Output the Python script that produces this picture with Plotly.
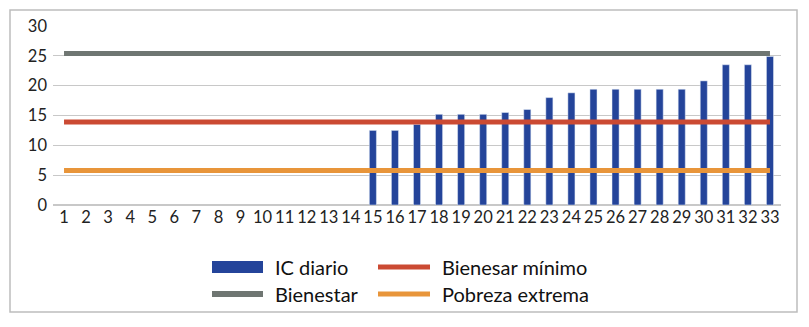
import plotly.graph_objects as go

days = [str(i) for i in range(1, 34)]
ic_diario = [None]*14 + [12.5, 12.5, 13.5, 15.2, 15.2, 15.2, 15.5, 16.0, 18.0, 18.8,
                          19.4, 19.4, 19.4, 19.4, 19.4, 20.8, 23.5, 23.5, 24.9]
bienestar = [25.4]*33
bienestar_minimo = [13.9]*33
pobreza_extrema = [5.8]*33
y_ticks = [0, 5, 10, 15, 20, 25, 30]
series_names = ["IC diario", "Bienesar mínimo", "Bienestar", "Pobreza extrema"]

W, H = 809, 327
L, R, T, B = 53, 28, 26, 122
pw, ph = W - L - R, H - T - B

BLUE, RED, GREY, ORANGE = "#24449A", "#CB4A33", "#6F7672", "#E8953A"

fig = go.Figure()
fig.add_trace(go.Bar(x=days, y=ic_diario, name=series_names[0], marker_color=BLUE))
fig.add_trace(go.Scatter(x=days, y=bienestar_minimo, name=series_names[1], mode="lines",
                         line=dict(color=RED, width=5)))
fig.add_trace(go.Scatter(x=days, y=bienestar, name=series_names[2], mode="lines",
                         line=dict(color=GREY, width=5)))
fig.add_trace(go.Scatter(x=days, y=pobreza_extrema, name=series_names[3], mode="lines",
                         line=dict(color=ORANGE, width=5)))


def px_x(x):
    return (x - L) / pw


def px_y(y):
    return (H - B - y) / ph


shapes = [dict(type="rect", xref="paper", yref="paper",
               x0=px_x(10), x1=px_x(797), y0=px_y(312), y1=px_y(10),
               line=dict(color="#BDBDBD", width=1.5), layer="below")]
annotations = []

# legend (2 x 2 grid, like the reference)
legend_items = [
    (series_names[0], BLUE, 212, 263, 267, 12),
    (series_names[1], RED, 378, 430, 267, 5),
    (series_names[2], GREY, 212, 263, 294, 6),
    (series_names[3], ORANGE, 378, 430, 294, 5),
]
for name, col, xa, xb, yc, th in legend_items:
    shapes.append(dict(type="rect", xref="paper", yref="paper",
                       x0=px_x(xa), x1=px_x(xb), y0=px_y(yc + th / 2), y1=px_y(yc - th / 2),
                       fillcolor=col, line=dict(width=0)))
    annotations.append(dict(text=name, xref="paper", yref="paper", x=px_x(xb + 10),
                            y=px_y(yc), xanchor="left", yanchor="middle", showarrow=False,
                            font=dict(size=20, family="Lato", color="#111")))

fig.update_layout(
    width=W, height=H,
    margin=dict(l=L, r=R, t=T, b=B, autoexpand=False),
    paper_bgcolor="white", plot_bgcolor="white",
    font=dict(family="Lato", size=16.5, color="#222"),
    bargap=0.68,
    showlegend=False,
    xaxis=dict(showgrid=False, showline=False, ticks="", tickfont=dict(size=16.5)),
    yaxis=dict(range=[0, 30], tickvals=y_ticks, showgrid=True, gridcolor="#C8C8C8",
               gridwidth=1, zeroline=True, zerolinecolor="#C8C8C8", showline=False,
               ticks="", tickfont=dict(size=16.5), ticklabelstandoff=5),
    shapes=shapes,
    annotations=annotations,
)

fig.write_html("out.html", config={"displayModeBar": False},
               post_script="document.body.style.margin='0';")
